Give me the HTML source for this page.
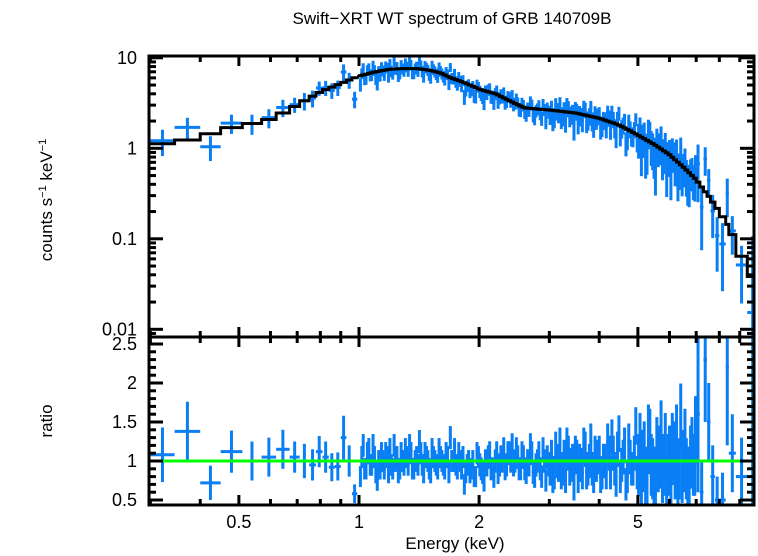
<!DOCTYPE html>
<html><head><meta charset="utf-8"><style>
html,body{margin:0;padding:0;background:#fff;overflow:hidden;}
svg{display:block;font-family:"Liberation Sans",sans-serif;}
</style></head><body>
<svg id="chart" width="758" height="556" viewBox="0 0 758 556" xmlns="http://www.w3.org/2000/svg">
<text x="452" y="24" font-size="17" text-anchor="middle">Swift−XRT WT spectrum of GRB 140709B</text>
<text transform="translate(52,200) rotate(-90)" font-size="17" text-anchor="middle">counts s<tspan font-size="11" dy="-6">−1</tspan><tspan dy="6"> keV</tspan><tspan font-size="11" dy="-6">−1</tspan></text>
<text transform="translate(52,421) rotate(-90)" font-size="17" text-anchor="middle">ratio</text>
<text x="455" y="549" font-size="17" text-anchor="middle">Energy (keV)</text>
<defs>
<clipPath id="cTop"><rect x="149" y="56" width="605" height="281"/></clipPath>
<clipPath id="cBot"><rect x="149" y="337" width="605" height="168"/></clipPath>
</defs>
<g id="topData" clip-path="url(#cTop)"></g>
<g id="botData" clip-path="url(#cBot)"></g>
<g id="axes"></g>
</svg>
<script>
const modelE = [0.3,0.35,0.4,0.45,0.5,0.55,0.6,0.65,0.7,0.75,0.8,0.85,0.9,1.0,1.1,1.2,1.3,1.4,1.5,1.6,1.7,1.8,1.9,2.0,2.2,2.4,2.6,3.0,3.5,4.0,4.5,5.0,5.5,6.0,6.5,7.0,7.5,8.0,8.5,9.0,9.5,10.0];
const modelV = [1.1,1.15,1.35,1.55,1.8,1.9,2.1,2.5,3.0,3.6,4.2,4.7,5.2,6.3,7.0,7.5,7.6,7.6,7.3,6.8,6.0,5.5,5.0,4.5,4.0,3.3,2.8,2.65,2.45,2.15,1.8,1.4,1.1,0.85,0.62,0.45,0.3,0.2,0.13,0.07,0.045,0.03];
const lowLo = [0.30,0.345,0.40,0.45,0.51,0.57,0.62,0.67,0.71,0.75,0.78,0.81,0.84,0.87,0.90,0.93,0.96];
const lowHi = [0.345,0.40,0.45,0.51,0.57,0.62,0.67,0.71,0.75,0.78,0.81,0.84,0.87,0.90,0.93,0.96,0.99];
const lowRatio = [1.08,1.38,0.72,1.12,1.0,1.05,1.15,1.05,1.0,0.95,1.12,1.05,0.92,0.93,1.3,1.0,0.58];
const lowErr = [0.35,0.38,0.22,0.27,0.25,0.25,0.25,0.2,0.22,0.2,0.2,0.2,0.18,0.18,0.28,0.2,0.12];
const midRatio = [0.8,1.2,0.9,1.15,0.95,1.05,0.75,0.9,1.0,1.1,0.85,0.95,1.2,1.05,0.9,1.0,1.15,0.95,1.1,0.9,1.05,1.25,0.95,1.1,1.0,0.85,1.05,0.95,1.15,1.0,0.9,1.05,1.3,1.0,0.95,1.1,
0.9,0.7,0.95,0.85,1.0,0.8,1.05,0.9,0.75,0.95,1.1,0.9,1.0,0.85,1.05,1.15,0.95,1.1,1.2,1.0,1.05,
0.9,1.05,0.85,0.95,1.1,0.8,1.0,0.9,1.15,0.75,0.95,1.05,0.85,1.0,1.2,0.9,0.8,1.1,0.95,0.7,1.05,1.0,0.85,1.15,0.9,1.25,0.8,0.95,1.1,0.85,
1.0,1.25,0.85,1.1,0.75,1.35,0.95,1.2,0.8,1.05,0.9,1.45,0.95,0.75,1.1,0.8,1.25,0.9,0.65,1.0,1.35,0.95,0.7,1.05,1.2,0.9,0.75,1.55,1.0,0.9,0.8,1.15,0.95];
const midRatio2 = [1.05,0.9,1.1,0.95,1.2,0.85,1.0,1.1,0.9,1.05,1.15,0.9,1.0,0.85,1.1,0.95,1.05,1.2,0.9,1.0,0.95,1.1,0.85,1.05,0.9,1.15,1.0,0.9,1.05,0.95,1.1,0.85,1.0,1.15,0.9,1.0,
1.05,0.85,1.0,0.9,0.8,1.1,0.95,0.85,1.0,1.05,0.9,0.8,1.1,0.95,1.0,0.9,1.1,1.0,0.95,1.15,0.9,
1.1,0.9,1.0,1.2,0.85,0.95,1.1,0.8,1.0,1.05,0.9,0.8,1.15,0.95,0.85,1.05,1.2,0.9,1.0,1.1,0.8,0.95,1.2,0.85,1.0,0.9,1.1,1.05,0.8,1.0,
0.85,1.1,1.3,0.9,1.15,0.8,1.05,0.7,1.25,0.9,1.1,0.85,1.2,1.0,0.75,1.3,0.95,0.8,1.15,1.05,0.85,1.2,0.95,0.7,1.1,1.3,0.9,0.85,1.25,0.8,1.05,0.95,1.4];
const midErrSeg = [0.14,0.15,0.22,0.4];
const tailLo = [7.0,7.15,7.3,7.45,7.6,7.8,8.0,8.3,8.45,8.8,9.4];
const tailHi = [7.15,7.3,7.45,7.6,7.8,8.0,8.3,8.45,8.8,9.4,10.0];
const tailRatio = [1.6,0.6,2.3,1.5,0.8,0.5,0.5,2.2,1.1,0.8,0.4];
const tailErr = [1.0,0.4,0.8,0.5,0.4,0.3,0.35,1.0,0.5,0.5,2.4];
const xMajor = [0.5,1,2,5];
const xMinor = [0.3,0.4,0.6,0.7,0.8,0.9,3,4,6,7,8,9,10];
const yTopLabels = [10,1,0.1,0.01];
const yBotMajor = [0.5,1,1.5,2,2.5];

const X0=149,X1=754,TOP=56,MID=337,BOT=505;
const xs = e => 359 + 399*Math.log10(e);
const ysT = v => 148.3 - 90.5*Math.log10(v);
const ysB = r => 461 - 78*(r-1);
const NS="http://www.w3.org/2000/svg";
function mk(tag, attrs, parent){const el=document.createElementNS(NS,tag);for(const k in attrs)el.setAttribute(k,attrs[k]);parent.appendChild(el);return el;}
function modelAt(e){const l=Math.log10(e);for(let i=0;i<modelE.length-1;i++){const a=Math.log10(modelE[i]),b=Math.log10(modelE[i+1]);if(l<=b){const t=(l-a)/(b-a);return Math.pow(10,Math.log10(modelV[i])*(1-t)+Math.log10(modelV[i+1])*t);}}return modelV[modelV.length-1];}

const bins=[], stepBins=[];
lowLo.forEach((lo,i)=>{bins.push([lo,lowHi[i],lowRatio[i],lowErr[i]]);stepBins.push([lo,lowHi[i]]);});
function addMid(arr,off){const n=arr.length;arr.forEach((r,i)=>{const lo=Math.pow(7,Math.max(0,(i+off))/n),hi=Math.pow(7,Math.min(n,i+off+1)/n);const c=Math.sqrt(lo*hi);const seg=c<2?0:c<3?1:c<5?2:3;bins.push([lo,hi,r,midErrSeg[seg]*(0.8+0.2*r)]);if(off===0)stepBins.push([lo,hi]);});}
addMid(midRatio,0);
addMid(midRatio2,0.5);
tailLo.forEach((lo,i)=>{bins.push([lo,tailHi[i],tailRatio[i],tailErr[i]]);stepBins.push([lo,tailHi[i]]);});

const gTop=document.getElementById('topData'), gBot=document.getElementById('botData'), gAx=document.getElementById('axes');
const blue="#0a7ff5";
bins.forEach(b=>{
  const [lo,hi,r,er]=b;const c=Math.sqrt(lo*hi);const m=modelAt(c);
  const v=r*m, ev=er*m;
  const g1=mk('g',{},gTop);
  
  
  mk('line',{x1:xs(lo),x2:xs(hi),y1:ysT(v),y2:ysT(v),stroke:blue,'stroke-width':3},g1);
  mk('line',{x1:xs(c),x2:xs(c),y1:ysT(v+ev),y2:ysT(Math.max(v-ev,0.001)),stroke:blue,'stroke-width':3},g1);
  const g2=mk('g',{},gBot);
  
  
  mk('line',{x1:xs(lo),x2:xs(hi),y1:ysB(r),y2:ysB(r),stroke:blue,'stroke-width':3},g2);
  mk('line',{x1:xs(c),x2:xs(c),y1:ysB(r+er),y2:ysB(r-er),stroke:blue,'stroke-width':3},g2);
});
let d='';
stepBins.forEach((b,i)=>{const m=modelAt(Math.sqrt(b[0]*b[1]));const y=ysT(m);d+=(i===0?'M':'L')+xs(b[0])+','+y+'L'+xs(b[1])+','+y;});
const ml=mk('path',{d:d,fill:'none',stroke:'#000','stroke-width':3},gTop);


const ul=mk('line',{x1:X0,x2:X1,y1:ysB(1),y2:ysB(1),stroke:'#00ff00','stroke-width':3},gBot);



[[TOP,MID],[MID,BOT]].forEach((p,k)=>{const r=mk('rect',{x:X0,y:p[0],width:X1-X0,height:p[1]-p[0],fill:'none',stroke:'#000','stroke-width':3},gAx);

});
function xtick(e,len){const x=xs(e);if(x<X0||x>X1)return;[[TOP,1],[MID,-1],[MID,1],[BOT,-1]].forEach(p=>{mk('line',{x1:x,x2:x,y1:p[0],y2:p[0]+p[1]*len,stroke:'#000','stroke-width':3},gAx);});}
xMajor.forEach(e=>xtick(e,10));
xMinor.forEach(e=>xtick(e,6));
xMajor.forEach(e=>{const t=mk('text',{x:xs(e),y:528,'font-size':18,'text-anchor':'middle'},gAx);t.textContent=String(e);

});
for(let dec=-3;dec<=1;dec++){for(let k=1;k<=9;k++){const v=k*Math.pow(10,dec);const y=ysT(v);if(y<TOP||y>MID)continue;const len=k===1?14:7;
mk('line',{x1:X0,x2:X0+len,y1:y,y2:y,stroke:'#000','stroke-width':3},gAx);mk('line',{x1:X1,x2:X1-len,y1:y,y2:y,stroke:'#000','stroke-width':3},gAx);}}
yTopLabels.forEach(v=>{const t=mk('text',{x:137,y:ysT(v)+6,'font-size':18,'text-anchor':'end'},gAx);t.textContent=String(v);

});
for(let r=0.45;r<=2.6;r+=0.1){const rr=Math.round(r*10)/10;const y=ysB(rr);if(y<MID||y>BOT)continue;const major=Math.abs(rr*2-Math.round(rr*2))<0.01;const len=major?14:7;
mk('line',{x1:X0,x2:X0+len,y1:y,y2:y,stroke:'#000','stroke-width':3},gAx);mk('line',{x1:X1,x2:X1-len,y1:y,y2:y,stroke:'#000','stroke-width':3},gAx);}
yBotMajor.forEach(v=>{const t=mk('text',{x:137,y:ysB(v)+6,'font-size':18,'text-anchor':'end'},gAx);t.textContent=String(v);

});
</script>
</body></html>
